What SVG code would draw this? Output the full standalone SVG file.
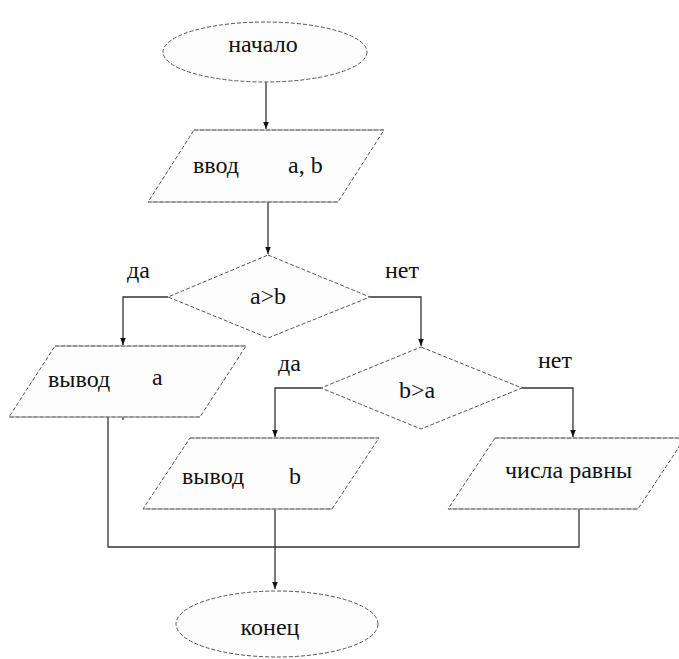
<svg xmlns="http://www.w3.org/2000/svg" width="679" height="659" viewBox="0 0 679 659">
  <style>
    .shape { fill: #fdfdfd; stroke: #555; stroke-width: 1; stroke-dasharray: 4 2; }
    .edge { stroke: #888; stroke-width: 1.2; fill: none; }
    .conn { fill: none; stroke: #333; stroke-width: 1.3; }
    text { font-size: 24px; fill: #111; }
  </style>
  <defs>
    <marker id="arrow" viewBox="0 0 10 10" refX="10" refY="5" markerWidth="7" markerHeight="7" markerUnits="userSpaceOnUse" orient="auto">
      <path d="M0,1 L10,5 L0,9 Z" fill="#111"/>
    </marker>
  </defs>
  <rect width="679" height="659" fill="#ffffff"/>

  <!-- connectors -->
  <g id="connectors">
    <path class="conn" d="M266,82 V129" marker-end="url(#arrow)"/>
    <path class="conn" d="M268,202 V254" marker-end="url(#arrow)"/>
    <path class="conn" d="M168,297 H123 V345" marker-end="url(#arrow)"/>
    <path class="conn" d="M370,297 H421 V346" marker-end="url(#arrow)"/>
    <path class="conn" d="M321,388 H275 V437" marker-end="url(#arrow)"/>
    <path class="conn" d="M522,388 H573 V437" marker-end="url(#arrow)"/>
    <path class="conn" d="M108,417 V547 H579 V509"/>
    <path class="conn" d="M275,509 V589" marker-end="url(#arrow)"/>
    <path class="conn" d="M123,417 V420"/>
  </g>

  <g font-family="'Liberation Serif', 'DejaVu Serif', serif">
    <!-- start -->
    <g id="start">
      <ellipse class="shape" cx="265" cy="52" rx="102" ry="30"/>
      <text x="263" y="52" text-anchor="middle">начало</text>
    </g>

    <!-- input a, b -->
    <g id="input">
      <polygon class="shape" points="194,130 384,130 338,202 148,202"/>
      <path class="edge" d="M194,130 H384 M148,202 H338"/>
      <text x="193" y="173">ввод</text>
      <text x="288" y="173">a, b</text>
    </g>

    <!-- decision a>b -->
    <g id="cond1">
      <polygon class="shape" points="268,255 370,297 268,338 168,297"/>
      <text x="268" y="304" text-anchor="middle">a&gt;b</text>
      <text x="127" y="278">да</text>
      <text x="385" y="278">нет</text>
    </g>

    <!-- output a -->
    <g id="out-a">
      <polygon class="shape" points="55,346 246,346 200,417 9,417"/>
      <path class="edge" d="M55,346 H246 M9,417 H200"/>
      <text x="48" y="387">вывод</text>
      <text x="152" y="385">a</text>
    </g>

    <!-- decision b>a -->
    <g id="cond2">
      <polygon class="shape" points="421,347 522,388 421,429 321,388"/>
      <text x="417" y="398" text-anchor="middle">b&gt;a</text>
      <text x="278" y="371">да</text>
      <text x="538" y="368">нет</text>
    </g>

    <!-- output b -->
    <g id="out-b">
      <polygon class="shape" points="190,438 379,438 332,509 143,509"/>
      <path class="edge" d="M190,438 H379 M143,509 H332"/>
      <text x="182" y="484">вывод</text>
      <text x="289" y="484">b</text>
    </g>

    <!-- equal numbers -->
    <g id="out-eq">
      <polygon class="shape" points="495,438 685,438 638,509 448,509"/>
      <path class="edge" d="M495,438 H685 M448,509 H638"/>
      <text x="505" y="478">числа равны</text>
    </g>

    <!-- end -->
    <g id="end">
      <ellipse class="shape" cx="277" cy="624" rx="101" ry="33"/>
      <text x="270" y="635" text-anchor="middle">конец</text>
    </g>
  </g>
</svg>
